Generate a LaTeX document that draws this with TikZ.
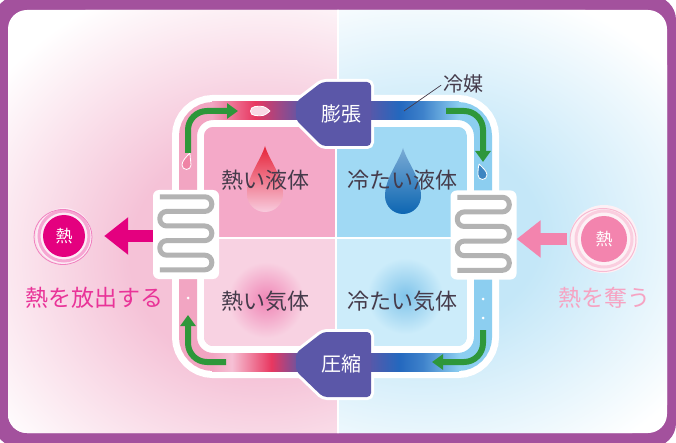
\documentclass[tikz,border=0pt]{standalone}
\usepackage{fontspec}
\setmainfont{Noto Sans CJK JP}
\usetikzlibrary{arrows.meta,calc}

\definecolor{framepurple}{HTML}{A3519D}
\definecolor{bgpink}{HTML}{F5C2D7}
\definecolor{bgblue}{HTML}{C4E7F8}
\definecolor{qhotliq}{HTML}{F4A9C8}
\definecolor{qhotgas}{HTML}{F8D2E2}
\definecolor{qcoldliq}{HTML}{A0D9F4}
\definecolor{qcoldgas}{HTML}{CCECFA}
\definecolor{pipepink}{HTML}{F2A5C2}
\definecolor{pipered}{HTML}{E83760}
\definecolor{valve}{HTML}{5B57A8}
\definecolor{pipeblue}{HTML}{2468BE}
\definecolor{pipesky}{HTML}{8CCEF0}
\definecolor{flowgreen}{HTML}{2E973A}
\definecolor{coilgray}{HTML}{B3B3B3}
\definecolor{heatmag}{HTML}{E4007F}
\definecolor{heatpink}{HTML}{F384AE}
\definecolor{labeltext}{HTML}{453B4B}
\definecolor{dropred}{HTML}{E62238}
\definecolor{dropblue}{HTML}{0D66B2}

% background glows and pipe gradients
\pgfdeclareradialshading{hotglow}{\pgfpoint{0bp}{0bp}}{color(0bp)=(bgpink); color(10bp)=(bgpink); color(25bp)=(white); color(50bp)=(white)}
\pgfdeclareradialshading{coldglow}{\pgfpoint{0bp}{0bp}}{color(0bp)=(bgblue); color(9bp)=(bgblue); color(25bp)=(white); color(50bp)=(white)}
\pgfdeclarehorizontalshading{hotpipe}{100bp}{color(0bp)=(pipepink); color(25bp)=(pipepink); color(49bp)=(pipered); color(75bp)=(valve); color(100bp)=(valve)}
\pgfdeclarehorizontalshading{hotpipelow}{100bp}{color(0bp)=(pipepink); color(25bp)=(pipepink); color(36bp)=(pipepink!70!white); color(58bp)=(pipered); color(75bp)=(valve); color(100bp)=(valve)}
\pgfdeclarehorizontalshading{coldpipe}{100bp}{color(0bp)=(valve); color(25bp)=(valve); color(42bp)=(pipeblue); color(55bp)=(pipeblue!75!pipesky); color(75bp)=(pipesky); color(100bp)=(pipesky)}

\begin{document}
\begin{tikzpicture}[x=1pt, y=-1pt,
    every node/.style={inner sep=0pt},
    qlabel/.style={font=\fontsize{22}{22}\selectfont, text=labeltext},
    valvetext/.style={font=\fontsize{20}{20}\selectfont, text=white},
    sidetext/.style={font=\fontsize{23}{23}\selectfont},
    flow/.style={draw=flowgreen, line width=6pt, rounded corners=19pt, -{Triangle[width=15pt,length=11pt]}},
    coilbox/.style={fill=white, rounded corners=6pt, minimum width=66pt, minimum height=89pt},
    coil/.style={draw=coilgray, line width=5pt, rounded corners=7pt},
    heatarrow/.style={line width=12pt, -{Triangle[width=36pt,length=24pt]}},
    valveshape/.style={rounded corners=4pt}]
  \useasboundingbox (0,0) rectangle (676,443);

  % frame
  \fill[framepurple, rounded corners=24pt] (-6,-4) rectangle (676,447);
  \fill[white, rounded corners=19pt] (8,10) rectangle (667,433);
  \begin{scope}
    \clip[rounded corners=19pt] (8,10) rectangle (667,433);
    \begin{scope}
      \clip (0,0) rectangle (338,443);
      \shade[shading=hotglow] (262,255) ellipse (330 and 290);
    \end{scope}
    \begin{scope}
      \clip (338,0) rectangle (676,443);
      \shade[shading=coldglow] (425,235) ellipse (320 and 260);
    \end{scope}
    \draw[white, line width=2pt] (338,0) -- (338,443);
  \end{scope}

  % refrigerant loop
  \coordinate (tl) at (188,111);
  \coordinate (tr) at (483,111);
  \coordinate (bl) at (188,362);
  \coordinate (br) at (483,362);
  \draw[white, line width=32pt, rounded corners=25pt] (tl) rectangle (br);

  % four states
  \begin{scope}
    \clip[rounded corners=9pt] (204,127) rectangle (467,346);
    \fill[qhotliq] (204,127) rectangle (336,238);
    \fill[qhotgas] (204,238) rectangle (336,346);
    \fill[qcoldliq] (336,127) rectangle (467,238);
    \fill[qcoldgas] (336,238) rectangle (467,346);
    \draw[white, line width=2.5pt] (336,127) -- (336,346);
    \draw[white, line width=2.5pt] (204,238) -- (467,238);
  \end{scope}
  \shade[inner color=pipepink!80!heatmag, outer color=qhotgas] (266,300) circle (38);
  \shade[inner color=pipesky!90!dropblue, outer color=qcoldgas] (405,296) circle (38);
  \shade[top color=dropred, middle color=dropred!60!qhotliq, bottom color=qhotliq!60!white, shift={(265,146)}]
    (0,0) .. controls (4,14) and (18,30) .. (18,48) arc[start angle=0, end angle=180, radius=18]
    .. controls (-18,30) and (-4,14) .. (0,0) -- cycle;
  \shade[top color=dropblue!55!white, bottom color=dropblue, shift={(403,148)}]
    (0,0) .. controls (4,14) and (18,30) .. (18,48) arc[start angle=0, end angle=180, radius=18]
    .. controls (-18,30) and (-4,14) .. (0,0) -- cycle;

  % valves: casing, pipe, body
  \draw[white, line width=6pt, valveshape] (296,102) -- (322,82) -- (371,82) -- (371,146) -- (322,146) -- (296,120) -- cycle;
  \draw[white, line width=6pt, valveshape] (296,353) -- (323,332) -- (371,332) -- (371,397) -- (323,397) -- (296,371) -- cycle;
  \draw[pipepink, line width=18pt, rounded corners=25pt] (300,111) -- (tl) -- (bl) -- (300,362);
  \draw[pipesky, line width=18pt, rounded corners=25pt] (370,111) -- (tr) -- (br) -- (370,362);
  \shade[shading=hotpipe] (212,102) rectangle (302,120);
  \shade[shading=hotpipelow] (212,353) rectangle (302,371);
  \shade[shading=coldpipe] (368,102) rectangle (459,120);
  \shade[shading=coldpipe] (368,353) rectangle (459,371);
  \fill[valve, valveshape] (296,102) -- (322,82) -- (371,82) -- (371,146) -- (322,146) -- (296,120) -- cycle;
  \fill[valve, valveshape] (296,353) -- (323,332) -- (371,332) -- (371,397) -- (323,397) -- (296,371) -- cycle;
  \node[valvetext] (expand) at (341,114) {膨張};
  \node[valvetext] (compress) at (341,364) {圧縮};

  % droplets and bubbles in the pipe
  \filldraw[fill=pipepink!45!white, draw=white, line width=0.8pt]
    (270,111) .. controls (264,106) .. (255,106.5) .. controls (249,107) and (249,115.5) .. (255,115.5) .. controls (264,116) .. (270,111);
  \filldraw[fill=pipepink!70!pipered, draw=white, line width=0.8pt]
    (190,153) .. controls (190,158) and (191,161) .. (191,165) arc[start angle=0, end angle=180, radius=4.5] .. controls (182,161) and (186,157) .. (190,153);
  \filldraw[fill=dropblue!80!white, draw=white, line width=0.8pt]
    (479,164) .. controls (482,167) and (487,171) .. (487,175) arc[start angle=0, end angle=180, radius=4.5] .. controls (478,172) and (478,168) .. (479,164);
  \foreach \p in {(188,298),(483,299),(483,318)}
    \fill[white] \p circle (1.5);

  % flow direction
  \draw[flow] ($(tl)+(0,42)$) -- (tl) -- ($(tl)+(50,0)$);
  \draw[flow] ($(tr)+(-37,0)$) -- (tr) -- ($(tr)+(0,51)$);
  \draw[flow] ($(br)+(0,-32)$) -- (br) -- ($(br)+(-51,0)$);
  \draw[flow] ($(bl)+(38,0)$) -- (bl) -- ($(bl)+(0,-47)$);

  % heat exchangers
  \node[coilbox] (hotcoil) at (186,234.5) {};
  \node[coilbox] (coldcoil) at (483.5,235) {};
  \foreach \c in {hotcoil,coldcoil}
    \draw[coil, shift={(\c.north west)}] (7,7) -- (59,7) -- (59,21.6) -- (7,21.6) -- (7,36.2) -- (59,36.2)
      -- (59,50.8) -- (7,50.8) -- (7,65.4) -- (59,65.4) -- (59,80) -- (7,80);

  % state labels
  \node[qlabel] (hotliq) at (265,180) {熱い液体};
  \node[qlabel] (coldliq) at (402,180) {冷たい液体};
  \node[qlabel] (hotgas) at (265,301) {熱い気体};
  \node[qlabel] (coldgas) at (402,301) {冷たい気体};

  % heat released
  \fill[heatmag!8] (64,236) circle (28);
  \draw[heatmag!35, line width=3pt] (64,236) circle (25);
  \draw[heatmag!50, line width=0.8pt] (63,237) ellipse (29 and 27.5);
  \node[circle, fill=heatmag, minimum size=42pt, text=white, font=\fontsize{17}{17}\selectfont] (heatout) at (64,236) {熱};
  \draw[heatarrow, heatmag, shorten >=19pt] (hotcoil.west |- heatout) -- (heatout.east);
  \node[sidetext, text=heatmag!80!white] (releaselbl) at (94,298) {熱を放出する};

  % heat absorbed
  \fill[heatpink!12] (604,239) circle (34);
  \draw[heatpink!40, line width=3pt] (604,239) circle (28);
  \draw[heatpink!55, line width=1pt] (603,240) ellipse (33 and 31.5);
  \node[circle, fill=heatpink, minimum size=46pt, text=white, font=\fontsize{17}{17}\selectfont] (heatin) at (604,239) {熱};
  \draw[heatarrow, heatpink, shorten <=14pt] (heatin.west) -- (coldcoil.east |- heatin);
  \node[sidetext, text=heatpink!75!white] (absorblbl) at (604,298) {熱を奪う};

  % refrigerant callout
  \node[font=\fontsize{20}{20}\selectfont, text=labeltext] (refrig) at (463,84) {冷媒};
  \coordinate (refpt) at (404,111);
  \draw[labeltext, line width=0.7pt, shorten <=2pt] (refrig.west) -- (refpt);
\end{tikzpicture}
\end{document}
